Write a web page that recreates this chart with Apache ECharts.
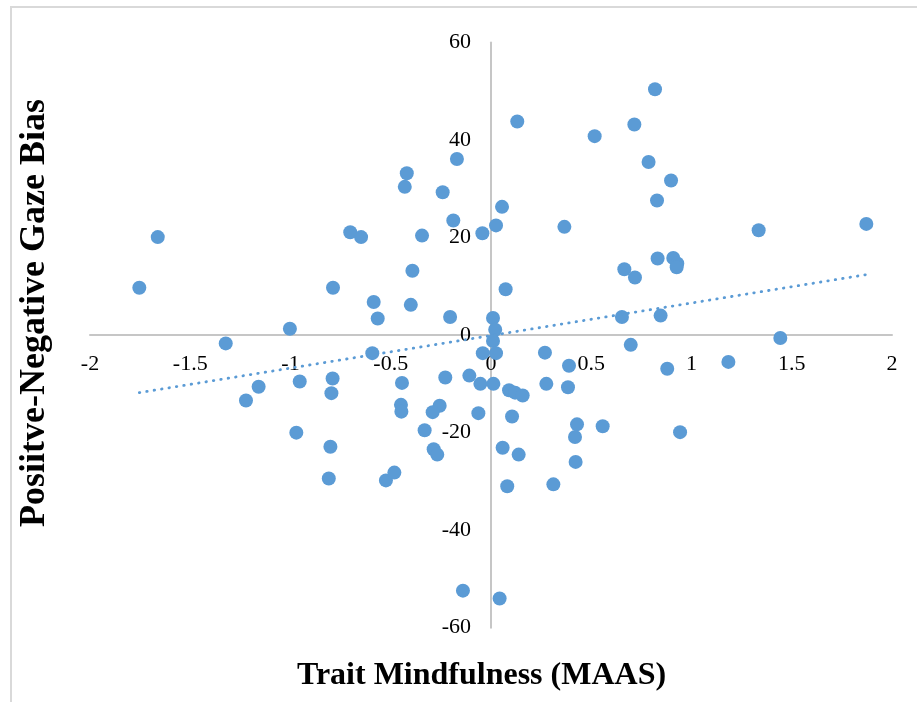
<!DOCTYPE html>
<html>
<head>
<meta charset="utf-8">
<script src="https://cdn.jsdelivr.net/npm/echarts@6/dist/echarts.min.js"></script>
<style>html,body{margin:0;padding:0;background:#fff;}#c{width:917px;height:702px;}</style>
</head>
<body>
<div id="c"></div>
<script>
// Trait mindfulness (MAAS, standardized) values
const mindfulness = [
 -1.662,-1.754,-1.323,-1.003,-0.788,-0.702,-0.648,-0.585,-0.565,-0.420,
 -0.430,-0.392,-0.400,-0.344,-0.241,-0.170,-0.188,-0.204,-0.043,0.025,
 0.055,0.073,0.010,0.021,0.010,0.131,0.517,0.715,0.818,0.786,
 0.898,0.828,0.366,1.335,1.872,0.831,0.909,0.929,0.926,0.665,
 0.718,0.653,0.846,1.443,0.697,0.269,-0.041,0.025,0.389,0.879,
 1.184,0.012,-0.053,0.090,0.120,0.158,0.276,0.384,0.105,0.429,
 0.419,0.557,0.943,0.058,0.138,0.422,0.081,0.311,0.043,-0.592,
 -1.159,-1.222,-0.954,-0.790,-0.796,-0.444,-0.449,-0.447,-0.228,-0.108,
 -0.256,-0.291,-0.063,-0.331,-0.286,-0.268,-0.971,-0.801,-0.809,-0.524,
 -0.482,-0.140
];
// Positive-negative gaze bias values (same order)
const gazeBias = [
 20.1,9.7,-1.7,1.3,9.7,21.1,20.1,6.8,3.4,33.2,
 30.4,13.2,6.2,20.4,29.3,36.1,23.5,3.7,20.9,22.5,
 26.3,9.4,3.5,1.1,-1.2,43.8,40.8,43.2,50.4,35.5,
 31.7,27.6,22.2,21.5,22.8,15.7,15.8,14.7,13.9,13.5,
 11.8,3.7,4.0,-0.6,-2.0,-3.6,-3.7,-3.7,-6.3,-6.9,
 -5.5,-10.0,-10.0,-11.3,-11.8,-12.4,-10.0,-10.7,-16.7,-18.3,
 -20.9,-18.7,-19.9,-23.1,-24.5,-26.0,-31.0,-30.6,-54.0,-3.7,
 -10.6,-13.4,-9.5,-8.9,-11.9,-9.8,-14.3,-15.7,-8.7,-8.3,
 -14.5,-15.8,-16.0,-19.5,-23.4,-24.5,-20.0,-22.9,-29.4,-29.8,
 -28.2,-52.4
];
// Linear trendline end points
const trendX = [-1.754, 1.872];
const trendY = [-11.8, 12.4];

const xTitle = 'Trait Mindfulness (MAAS)';
const yTitle = 'Posiitve-Negative Gaze Bias';

const points = mindfulness.map((x, i) => [x, gazeBias[i]]);
const trend = trendX.map((x, i) => [x, trendY[i]]);

const chart = echarts.init(document.getElementById('c'), null, {renderer: 'canvas'});
const font = '"Liberation Serif", "Times New Roman", serif';
const GRID = {left: 90, right: 25, top: 42.5, bottom: 74.3};
chart.setOption({
  animation: false,
  backgroundColor: '#fff',
  grid: Object.assign({containLabel: false}, GRID),
  xAxis: {
    type: 'value', min: -2, max: 2, interval: 0.5,
    axisLine: {onZero: false, lineStyle: {color: '#c6c6c6', width: 2}},
    axisTick: {show: false},
    splitLine: {show: false},
    axisLabel: {fontFamily: font, fontSize: 22, color: '#000', margin: 18}
  },
  yAxis: {
    type: 'value', min: -60, max: 60, interval: 20,
    axisLine: {onZero: false, lineStyle: {color: '#c6c6c6', width: 2}},
    axisTick: {show: false},
    splitLine: {show: false},
    axisLabel: {fontFamily: font, fontSize: 22, color: '#000', margin: 20}
  },
  series: [
    {
      type: 'scatter', data: points, symbolSize: 14,
      itemStyle: {color: '#5B9BD5', opacity: 1}, z: 3
    },
    {
      type: 'line', data: trend, symbol: 'none', silent: true, z: 4,
      lineStyle: {color: '#5B9BD5', width: 2.8, type: [0.5, 7], cap: 'round'}
    }
  ],
  graphic: [
    {type: 'rect', shape: {x: 11, y: 7, width: 1000, height: 1000},
     style: {fill: 'none', stroke: '#d9d9d9', lineWidth: 2}, silent: true},
    {type: 'text', x: 481.5, y: 676,
     style: {text: xTitle, font: 'bold 32px ' + font, fill: '#000', textAlign: 'center', textVerticalAlign: 'middle'}},
    {type: 'text', x: 35, y: 313, rotation: Math.PI / 2,
     style: {text: yTitle, font: 'bold 36px ' + font, fill: '#000', textAlign: 'center', textVerticalAlign: 'middle'}}
  ]
});
// Move both axes (line and labels) so they cross at the data origin, as in the reference
const origin = chart.convertToPixel({gridIndex: 0}, [0, 0]);
const H = 702;
chart.setOption({
  xAxis: {offset: -((H - GRID.bottom) - origin[1])},
  yAxis: {offset: -(origin[0] - GRID.left)}
});
</script>
</body>
</html>
